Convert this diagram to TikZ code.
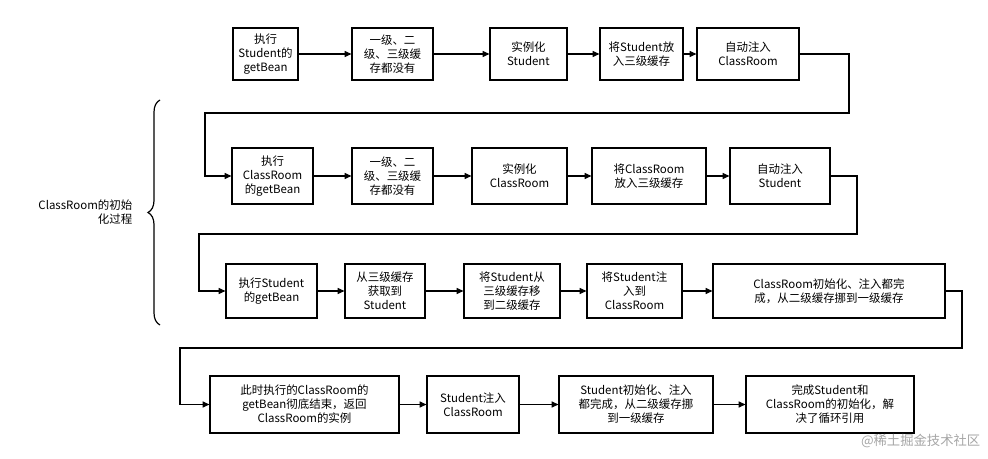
\documentclass[tikz,border=0pt]{standalone}
\usepackage{fontspec}
\setmainfont{Noto Sans CJK SC}
\usetikzlibrary{arrows.meta,decorations.pathreplacing}
\begin{document}
\begin{tikzpicture}[x=0.75pt,y=-0.75pt,
  bx/.style={draw,line width=0.9pt,align=center,font=\fontsize{8.6}{10.5}\selectfont,inner sep=1pt},
  ar/.style={-{Triangle[length=5pt,width=4.5pt]},line width=0.8pt}]
\useasboundingbox (0,0) rectangle (988,459);
\newcommand\bxx[6]{\node[bx,minimum width={(#4-#3)*0.75pt},minimum height={(#6-#5)*0.75pt}] (#1) at ({(#3+#4)/2},{(#5+#6)/2}) {#2};}
\bxx{b1}{执行\\Student的\\getBean}{233}{298}{28}{80}
\bxx{b2}{一级、二\\级、三级缓\\存都没有}{352}{433}{28}{80}
\bxx{b3}{实例化\\Student}{490}{567}{28}{80}
\bxx{b4}{将Student放\\入三级缓存}{600}{683}{28}{80}
\bxx{b5}{自动注入\\ClassRoom}{697}{799}{28}{80}
\bxx{b6}{执行\\ClassRoom\\的getBean}{232}{313}{148}{204}
\bxx{b7}{一级、二\\级、三级缓\\存都没有}{352}{433}{148}{204}
\bxx{b8}{实例化\\ClassRoom}{472}{567}{148}{204}
\bxx{b9}{将ClassRoom\\放入三级缓存}{592}{706}{148}{204}
\bxx{b10}{自动注入\\Student}{730}{830}{148}{204}
\bxx{b11}{执行Student\\的getBean}{226}{317}{264}{318}
\bxx{b12}{从三级缓存\\获取到\\Student}{345}{425}{264}{318}
\bxx{b13}{将Student从\\三级缓存移\\到二级缓存}{464}{560}{264}{318}
\bxx{b14}{将Student注\\入到\\ClassRoom}{587}{682}{264}{318}
\bxx{b15}{ClassRoom初始化、注入都完\\成，从二级缓存挪到一级缓存}{713}{945}{264}{318}
\bxx{b16}{此时执行的ClassRoom的\\getBean彻底结束，返回\\ClassRoom的实例}{210}{399}{376}{433}
\bxx{b17}{Student注入\\ClassRoom}{427}{519}{376}{433}
\bxx{b18}{Student初始化、注入\\都完成，从二级缓存挪\\到一级缓存}{559}{713}{376}{433}
\bxx{b19}{完成Student和\\ClassRoom的初始化，解\\决了循环引用}{746}{914}{376}{433}
\draw[ar] (b1) -- (b2); \draw[ar] (b2) -- (b3); \draw[ar] (b3) -- (b4); \draw[ar] (b4) -- (b5);
\draw[ar] (b6) -- (b7); \draw[ar] (b7) -- (b8); \draw[ar] (b8) -- (b9); \draw[ar] (b9) -- (b10);
\draw[ar] (b11) -- (b12); \draw[ar] (b12) -- (b13); \draw[ar] (b13) -- (b14); \draw[ar] (b14) -- (b15);
\draw[ar] (b16) -- (b17); \draw[ar] (b17) -- (b18); \draw[ar] (b18) -- (b19);
\draw[ar] (b5.east) -- (849,54) -- (849,113) -- (205,113) |- (b6.west);
\draw[ar] (b10.east) -- (857,176) -- (857,234) -- (199,234) |- (b11.west);
\draw[ar] (b15.east) -- (962,291) -- (962,348) -- (180,348) |- (b16.west);
\draw[line width=0.9pt,decorate,decoration={brace,amplitude=9pt}] (160,325) -- (160,100);
\node[align=right,anchor=east,font=\fontsize{8.6}{11}\selectfont] (lbl) at (137,212) {ClassRoom的初始\\化过程};
\node[anchor=east,text=gray!70,font=\fontsize{10}{12}\selectfont] (wm) at (985,441) {@稀土掘金技术社区};
\end{tikzpicture}
\end{document}
